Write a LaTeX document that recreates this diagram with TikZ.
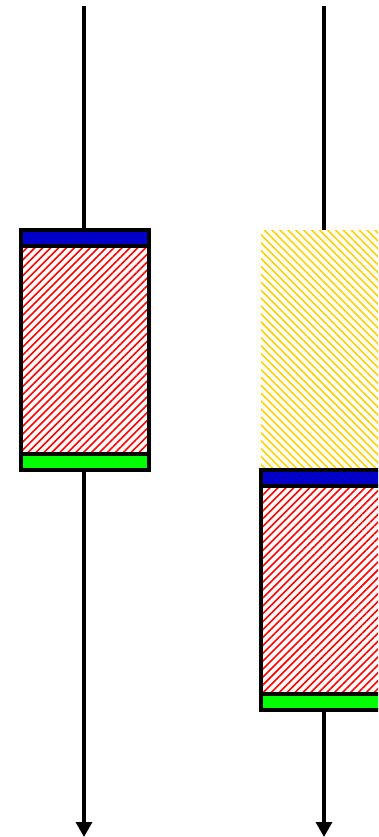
\documentclass[tikz,border=0pt]{standalone}
\usetikzlibrary{arrows.meta,patterns.meta}
\definecolor{bandblue}{RGB}{0,0,200}
\definecolor{bandgreen}{RGB}{0,255,0}
\definecolor{hatchred}{RGB}{255,0,0}
\definecolor{hatchgold}{RGB}{255,210,0}
\tikzset{
  band/.style={line width=4pt},
  boxframe/.style={draw=black,line width=4pt},
  redhatch/.style={pattern={Lines[angle=45,distance=5.6pt,line width=1.6pt]},pattern color=hatchred},
  goldhatch/.style={pattern={Lines[angle=-45,distance=5.6pt,line width=1.6pt]},pattern color=hatchgold},
  stem/.style={line width=3.2pt},
  arrowstem/.style={line width=3.2pt,-{Triangle[length=15pt,width=16pt]}}
}
\begin{document}
\begin{tikzpicture}[x=1pt,y=-1pt]
\useasboundingbox (0,0) rectangle (378,837);
\clip (0,0) rectangle (378,837);
% left element
\coordinate (Ltop) at (84,6);
\coordinate (Lbot) at (84,837);
\coordinate (LA) at (21,230);
\coordinate (LB) at (148.7,469.7);
\fill[bandblue] (21,230) rectangle (148.7,246);
\fill[redhatch] (21,246) rectangle (148.7,453.7);
\fill[bandgreen] (21,453.7) rectangle (148.7,469.7);
\draw[band] (21,246) -- (148.7,246);
\draw[band] (21,453.7) -- (148.7,453.7);
\draw[boxframe] (LA) rectangle (LB);
\draw[stem] (Ltop) -- (84,230);
\draw[arrowstem] (84,469.7) -- (Lbot);
% right element
\coordinate (Rtop) at (324,6);
\coordinate (Rbot) at (324,837);
\coordinate (RA) at (261,469.7);
\coordinate (RB) at (388.7,709.7);
\fill[goldhatch] (261,230) rectangle (388.7,469.7);
\fill[bandblue] (261,469.7) rectangle (388.7,485.5);
\fill[redhatch] (261,485.5) rectangle (388.7,693.7);
\fill[bandgreen] (261,693.7) rectangle (388.7,709.7);
\draw[band] (261,485.5) -- (388.7,485.5);
\draw[band] (261,693.7) -- (388.7,693.7);
\draw[boxframe] (RA) rectangle (RB);
\draw[stem] (Rtop) -- (324,230);
\draw[arrowstem] (324,709.7) -- (Rbot);
\end{tikzpicture}
\end{document}
